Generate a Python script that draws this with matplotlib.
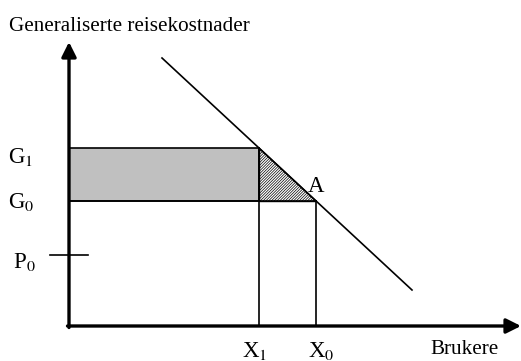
import matplotlib
matplotlib.use("Agg")
import matplotlib.pyplot as plt
from matplotlib.patches import Polygon, Rectangle

# Conceptual quantities (in chart units, origin at axis intersection)
X1, X0 = 190, 247
G1, G0 = 178, 125
P0 = 71
demand_x = [93, 343]
demand_y = [268, 36]
y_axis_top = 284
x_axis_right = 452

plt.rcParams['font.family'] = ['Liberation Serif', 'DejaVu Serif']
plt.rcParams['hatch.linewidth'] = 0.5

fig = plt.figure(figsize=(5.21, 3.61), dpi=100)
ax = fig.add_axes([0, 0, 1, 1])
ax.set_xlim(-69, 452)
ax.set_ylim(-35, 326)
ax.axis('off')

# shaded rectangle
ax.add_patch(Rectangle((0, G0), X1, G1 - G0, facecolor='#c0c0c0', edgecolor='black', lw=1.2, zorder=2))
# hatched triangle
ax.add_patch(Polygon([(X1, G1), (X1, G0), (X0, G0)], closed=True, facecolor='white',
                     edgecolor='black', hatch='////////////', lw=1.0, zorder=2))

# demand line
ax.plot(demand_x, demand_y, color='black', lw=1.2, zorder=3)
# G0 line extension to X0
ax.plot([0, X0], [G0, G0], color='black', lw=1.2, zorder=3)
# vertical drops
ax.plot([X1, X1], [0, G1], color='black', lw=1.2, zorder=3)
ax.plot([X0, X0], [0, G0], color='black', lw=1.2, zorder=3)
# P0 tick
ax.plot([-19, 19], [P0, P0], color='black', lw=1.2, zorder=3)

# axes arrows
ax.annotate('', xy=(0, y_axis_top), xytext=(0, -1.5),
            arrowprops=dict(arrowstyle='-|>', lw=2.4, color='black', mutation_scale=22,
                            shrinkA=0, shrinkB=0), zorder=4)
ax.annotate('', xy=(x_axis_right, 0), xytext=(-1.5, 0),
            arrowprops=dict(arrowstyle='-|>', lw=2.4, color='black', mutation_scale=22,
                            shrinkA=0, shrinkB=0), zorder=4)

fs = 16.5
fs_small = 15.2
kw = dict(va='baseline', ha='left', math_fontfamily='stix')
ax.text(-60, 295, 'Generaliserte reisekostnader', fontsize=fs_small, va='baseline', ha='left')
ax.text(-61, 163, r'G$_1$', fontsize=fs, **kw)
ax.text(-61, 118, r'G$_0$', fontsize=fs, **kw)
ax.text(-56, 58, r'P$_0$', fontsize=fs, **kw)
ax.text(173, -31, r'X$_1$', fontsize=fs, **kw)
ax.text(239, -31, r'X$_0$', fontsize=fs, **kw)
ax.text(361, -28, 'Brukere', fontsize=fs_small, va='baseline', ha='left')
ax.text(239, 134, 'A', fontsize=fs, va='baseline', ha='left')

fig.savefig('out.png', dpi=100)
